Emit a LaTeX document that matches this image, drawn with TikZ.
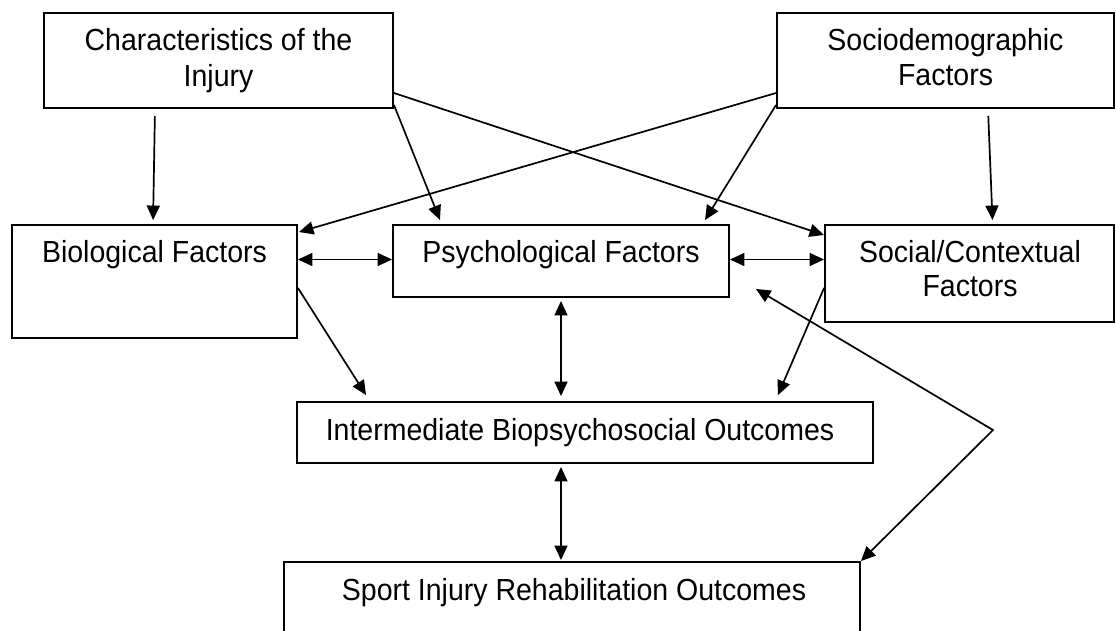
\documentclass[tikz,border=0pt]{standalone}
\usepackage{graphicx}
\usepackage{fontspec}
\setmainfont{Liberation Sans}
\usetikzlibrary{arrows.meta}
% slightly tall lettering for the box labels
\newcommand{\boxtext}[1]{\scalebox{1}[1.07]{#1}}
\begin{document}
\begin{tikzpicture}[x=1pt,y=-1pt,
  box/.style={draw, line width=1.9pt, rectangle, inner sep=0pt},
  lbl/.style={anchor=base, inner sep=0pt, font=\fontsize{28.5}{34}\selectfont},
  tip/.tip={Triangle[length=14.5pt,width=13pt]},
  arr/.style={line width=1.7pt, -tip},
  darr/.style={line width=1.7pt, tip-tip}]
\useasboundingbox (0,0) rectangle (1116,630);
\clip (0,0) rectangle (1116,630);

% boxes
\node[box, minimum width=349pt, minimum height=95pt]  (char)   at (218.5,60.5)  {};
\node[box, minimum width=337pt, minimum height=95pt]  (socio)  at (945.5,60.5)  {};
\node[box, minimum width=285pt, minimum height=113pt] (bio)    at (154.5,281.5) {};
\node[box, minimum width=336pt, minimum height=72pt]  (psych)  at (561,261)     {};
\node[box, minimum width=289pt, minimum height=97pt]  (social) at (969.5,273.5) {};
\node[box, minimum width=576pt, minimum height=61pt]  (inter)  at (585,432.5)   {};
\node[box, minimum width=576pt, minimum height=83pt]  (sport)  at (572,603.5)   {};

% box texts
\node[lbl] (charA) at (218.5,50.7) {\boxtext{Characteristics of the}};
\node[lbl] (charB) at (218.5,86.7) {\boxtext{Injury}};
\node[lbl] (socA)  at (945.5,50)   {\boxtext{Sociodemographic}};
\node[lbl] (socB)  at (945.5,85)   {\boxtext{Factors}};
\node[lbl] (bioT)  at (154.5,262.7) {\boxtext{Biological Factors}};
\node[lbl] (psyT)  at (561,262.7)  {\boxtext{Psychological Factors}};
\node[lbl] (scT1)  at (970,262.7)  {\boxtext{Social/Contextual}};
\node[lbl] (scT2)  at (970,296.7)  {\boxtext{Factors}};
\node[lbl] (intT)  at (580,440)    {\boxtext{Intermediate Biopsychosocial Outcomes}};
\node[lbl] (spT)   at (574,600)    {\boxtext{Sport Injury Rehabilitation Outcomes}};

% influences from the top row
\draw[arr, shorten <=7pt, shorten >=4pt] ([xshift=-63.5pt]char.south) -- ([xshift=-1.5pt]bio.north);
\draw[arr] ([yshift=4pt]char.south east) -- ([xshift=-121pt,yshift=4pt]psych.north);
\draw[arr] ([yshift=-32.5pt]char.east) -- ([yshift=38.5pt]social.west);
\draw[arr] ([yshift=-32.5pt]socio.west) -- ([xshift=1pt,yshift=-8pt]bio.north east);
\draw[arr] ([yshift=4pt]socio.south west) -- ([xshift=144pt,yshift=4pt]psych.north);
\draw[arr, shorten <=7pt] ([xshift=42.5pt]socio.south) -- ([xshift=23pt,yshift=4pt]social.north);

% middle row links
\draw[darr] ([yshift=1.5pt]bio.east |- psych.west) -- ([yshift=1.5pt]psych.west);
\draw[darr] ([yshift=1.5pt]psych.east) -- ([yshift=1.5pt]psych.east -| social.west);

% towards the outcomes
\draw[arr] ([yshift=-6.5pt]bio.east) -- ([xshift=70pt,yshift=6pt]inter.north west);
\draw[darr, shorten <=3pt, shorten >=5pt] (psych.south) -- (psych.south |- inter.north);
\draw[arr] ([yshift=-14.5pt]social.west) -- ([xshift=-96pt,yshift=6pt]inter.north east);
\draw[darr, shorten <=3pt, shorten >=1pt] ([xshift=-24pt]inter.south) -- ([xshift=-24pt]inter.south |- sport.north);

% feedback loop
\coordinate (bend) at (993,430);
\draw[darr, line join=miter] ([xshift=26pt,yshift=9pt]psych.south east) -- (bend) -- (sport.north east);
\end{tikzpicture}
\end{document}
